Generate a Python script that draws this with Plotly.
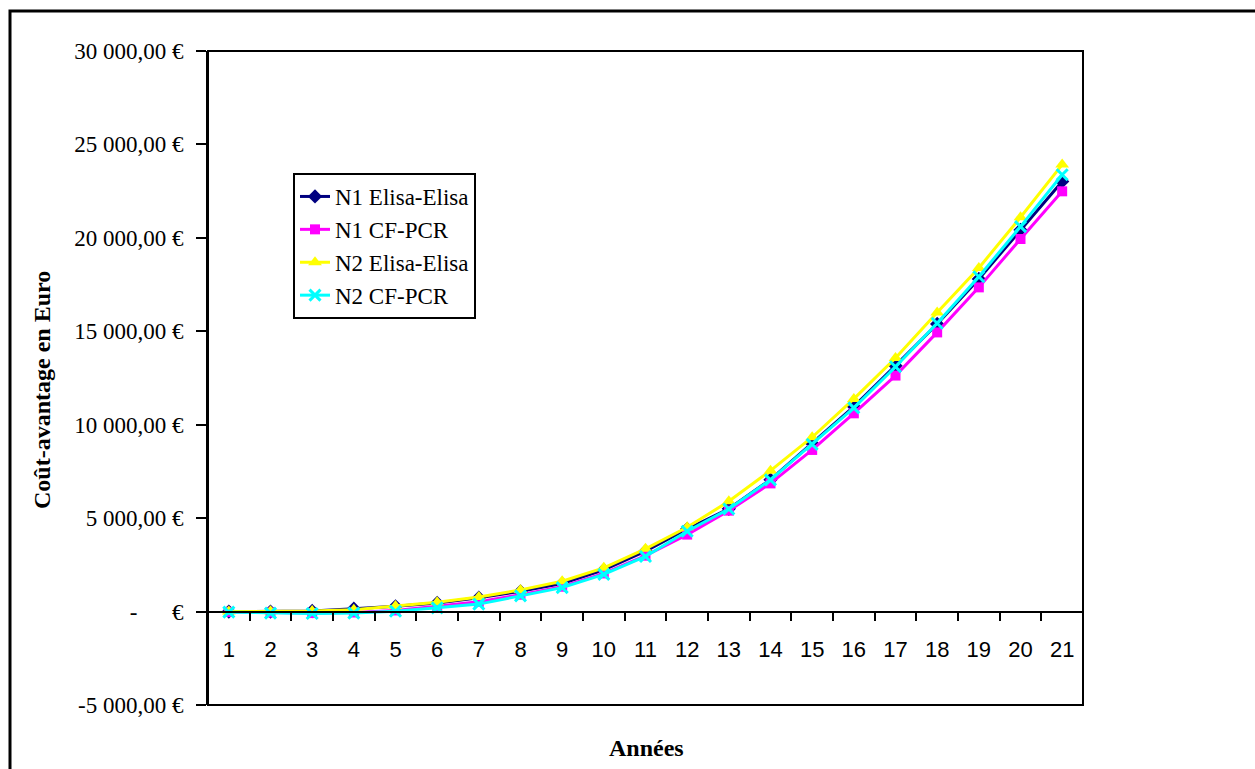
import plotly.graph_objects as go

years = [str(i) for i in range(1, 22)]

n1_elisa = [0, 0, 30, 150, 280, 460, 740, 1080, 1500, 2230, 3230, 4420, 5500, 7060,
            9000, 10970, 13160, 15390, 17800, 20420, 23020]
n1_cfpcr = [-20, -50, -80, -50, 60, 280, 520, 900, 1330, 2040, 2990, 4120, 5400, 6860,
            8650, 10610, 12630, 14940, 17350, 19940, 22490]
n2_elisa = [0, 20, 30, 100, 300, 500, 780, 1160, 1620, 2340, 3360, 4510, 5900, 7540,
            9330, 11380, 13570, 16010, 18390, 21100, 23920]
n2_cfpcr = [-30, -80, -100, -80, 20, 200, 400, 840, 1280, 1990, 2950, 4300, 5490, 7050,
            8950, 10900, 13100, 15430, 17920, 20600, 23380]

series_names = ["N1 Elisa-Elisa", "N1 CF-PCR", "N2 Elisa-Elisa", "N2 CF-PCR"]

y_tick_vals = [-5000, 0, 5000, 10000, 15000, 20000, 25000, 30000]
y_tick_text = ["-5 000,00 €", "-" + "\u00a0" * 6 + "€", "5 000,00 €", "10 000,00 €",
               "15 000,00 €", "20 000,00 €", "25 000,00 €", "30 000,00 €"]

W, H = 1255, 769
L, R, T, B = 208, 1083, 51, 705
YMIN, YMAX = -5000, 30000


def px_x(x):
    return (x - L) / (R - L)


def px_y(y):
    return (B - y) / (B - T)


styles = [
    dict(color="#000080", symbol="diamond", size=11),
    dict(color="#FF00FF", symbol="square", size=10),
    dict(color="#FFFF00", symbol="triangle-up", size=12),
    dict(color="#00FFFF", symbol="x-thin", size=11),
]

fig = go.Figure()
for name, vals, st in zip(series_names, [n1_elisa, n1_cfpcr, n2_elisa, n2_cfpcr], styles):
    marker = dict(symbol=st["symbol"], size=st["size"], color=st["color"])
    if st["symbol"] == "x-thin":
        marker["line"] = dict(color=st["color"], width=3)
    else:
        marker["line"] = dict(width=0)
    fig.add_trace(go.Scatter(
        x=years, y=vals, name=name, mode="lines+markers",
        line=dict(color=st["color"], width=3),
        marker=marker,
    ))

zero_pos = (0 - YMIN) / (YMAX - YMIN)

fig.update_layout(
    width=W, height=H,
    margin=dict(l=L, r=W - R, t=T, b=H - B),
    paper_bgcolor="white", plot_bgcolor="white",
    showlegend=True,
    legend=dict(
        x=px_x(293), y=px_y(173), xanchor="left", yanchor="top",
        bordercolor="black", borderwidth=2, bgcolor="white",
        font=dict(family="Liberation Serif", size=23, color="black"),
        tracegroupgap=0,
    ),
    xaxis=dict(
        type="category", anchor="free", position=zero_pos,
        showline=True, linecolor="black", linewidth=2,
        ticks="outside", ticklen=8, tickwidth=2, tickcolor="black",
        tickson="boundaries",
        showgrid=False, zeroline=False,
        tickfont=dict(family="Liberation Sans", size=22, color="black"),
        ticklabelstandoff=18,
        range=[-0.5, 20.5],
    ),
    yaxis=dict(
        range=[YMIN, YMAX], tickvals=y_tick_vals, ticktext=y_tick_text,
        showline=True, linecolor="black", linewidth=2,
        ticks="outside", ticklen=10, tickwidth=2, tickcolor="black",
        showgrid=False, zeroline=False,
        tickfont=dict(family="Liberation Serif", size=23, color="black"),
        ticklabelstandoff=8,
    ),
    shapes=[
        dict(type="rect", xref="paper", yref="paper", x0=0, y0=0, x1=1, y1=1,
             line=dict(color="black", width=2), layer="above"),
        dict(type="rect", xref="paper", yref="paper",
             x0=px_x(10), y0=px_y(820), x1=px_x(1300), y1=px_y(11),
             line=dict(color="black", width=3), layer="below"),
    ],
    annotations=[
        dict(text="<b>Coût-avantage en Euro</b>", xref="paper", yref="paper",
             x=px_x(42), y=px_y(390), textangle=-90, showarrow=False,
             xanchor="center", yanchor="middle",
             font=dict(family="Liberation Serif", size=24, color="black")),
        dict(text="<b>Années</b>", xref="paper", yref="paper",
             x=px_x(646), y=px_y(748), showarrow=False,
             xanchor="center", yanchor="middle",
             font=dict(family="Liberation Serif", size=24, color="black")),
    ],
)

fig.write_html("out.html")
